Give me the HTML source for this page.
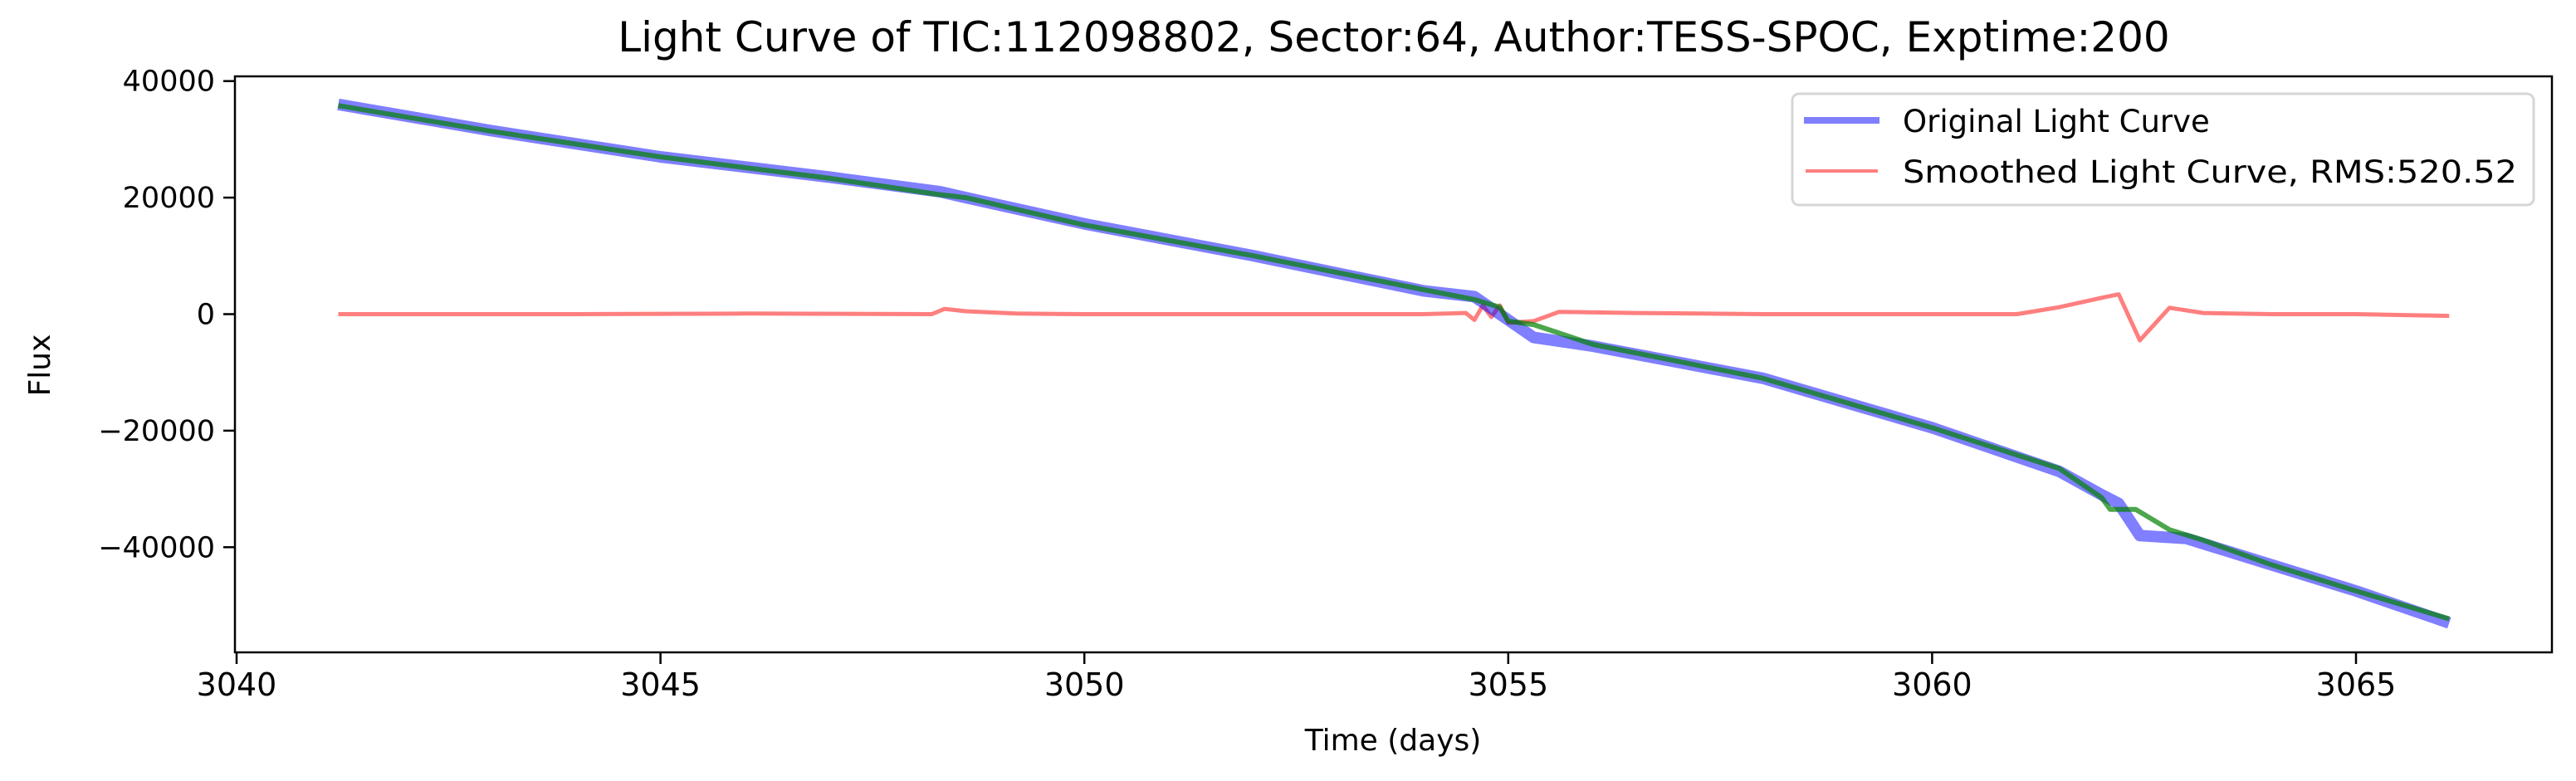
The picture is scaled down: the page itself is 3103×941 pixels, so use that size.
<!DOCTYPE html>
<html><head><meta charset="utf-8"><style>
html,body{margin:0;padding:0;background:#fff;}
svg{display:block;font-family:"DejaVu Sans","Liberation Sans",sans-serif;}
</style></head><body>
<svg id="chart" width="3103" height="941" viewBox="0 0 3103 941">
<rect x="0" y="0" width="3103" height="941" fill="#fff"/>
<text x="1679" y="62" font-size="50" text-anchor="middle">Light Curve of TIC:112098802, Sector:64, Author:TESS-SPOC, Exptime:200</text>
<g id="plot"></g>
<g id="axes"></g>
<text x="1678" y="904" font-size="36" text-anchor="middle">Time (days)</text>
<text x="0" y="0" font-size="36" text-anchor="middle" transform="translate(60,440) rotate(-90)">Flux</text>
<g>
<rect x="2159" y="113" width="893" height="134" rx="8" fill="#fff" fill-opacity="0.8" stroke="#d6d6d6" stroke-width="3"/>
<line x1="2173" y1="145" x2="2264" y2="145" stroke="#7f7fff" stroke-width="8"/>
<text x="2292" y="159" font-size="37">Original Light Curve</text>
<line x1="2175" y1="206" x2="2262" y2="206" stroke="#ff7f7f" stroke-width="4"/>
<text x="2292" y="220" font-size="37" textLength="740" lengthAdjust="spacingAndGlyphs">Smoothed Light Curve, RMS:520.52</text>
</g>
</svg>
<script>
const origTimes=[3041.2,3043,3045,3047,3048.3,3048.6,3050,3052,3054,3054.6,3054.8,3055.0,3055.3,3056,3058,3060,3061.5,3062.0,3062.2,3062.45,3063,3064,3065,3066.1];
const origFlux=[36000,31500,27000,23500,21000,20000,15500,10000,4000,3000,1000,-1000,-4000,-5500,-11000,-19500,-27000,-31000,-32500,-38000,-38500,-43000,-47500,-53000];
const smoothTimes=[3041.2,3043,3045,3047,3048.3,3048.6,3050,3052,3054,3054.6,3054.9,3055.0,3055.3,3056,3058,3060,3061.5,3062.0,3062.1,3062.4,3062.8,3063.2,3064,3065,3066.1];
const smoothFlux=[35800,31400,27000,23300,20500,20000,15300,10000,4200,2500,1200,-1200,-1800,-5200,-11000,-19500,-26500,-31500,-33500,-33500,-37000,-38800,-43000,-47500,-52300];
const residTimes=[3041.2,3044,3046,3048.2,3048.35,3048.6,3049.2,3050,3052,3054.0,3054.5,3054.6,3054.7,3054.8,3054.9,3055.0,3055.3,3055.6,3056.5,3058,3060,3061.0,3061.5,3062.0,3062.2,3062.45,3062.8,3063.2,3064,3065,3066.1];
const residFlux=[0,0,100,0,900,500,100,0,0,0,200,-1000,1500,-500,1500,-1500,-1200,400,200,0,0,0,1200,2800,3400,-4500,1100,200,0,0,-300];
const xTicks=[3040,3045,3050,3055,3060,3065];
const yTicks=[40000,20000,0,-20000,-40000];
const yTickLabels=["40000","20000","0","\u221220000","\u221240000"];

const X0=283,X1=3074,Y0=92,Y1=786;
function xs(t){return 285+(t-3040)*(2838-285)/25;}
function ys(v){return 378.5-v*280.8/40000;}
const NS="http://www.w3.org/2000/svg";
const plot=document.getElementById('plot');
const axes=document.getElementById('axes');
function pts(ts,vs){return ts.map((t,i)=>xs(t).toFixed(1)+','+ys(vs[i]).toFixed(1)).join(' ');}
function line(ts,vs,color,w,op,name){
  const p=document.createElementNS(NS,'polyline');
  p.setAttribute('points',pts(ts,vs));
  p.setAttribute('fill','none');p.setAttribute('stroke',color);
  p.setAttribute('stroke-width',w);p.setAttribute('stroke-opacity',op);
  p.setAttribute('stroke-linejoin','round');
  
  
  plot.appendChild(p);
}
line(residTimes,residFlux,'#ff0000',5,0.5,'smoothed-light-curve-residual');
line(origTimes,origFlux,'#0000ff',14,0.5,'original-light-curve');
line(smoothTimes,smoothFlux,'#008000',6,0.7,'smooth-trend-line');

const frame=document.createElementNS(NS,'rect');
frame.setAttribute('x',X0);frame.setAttribute('y',Y0);
frame.setAttribute('width',X1-X0);frame.setAttribute('height',Y1-Y0);
frame.setAttribute('fill','none');frame.setAttribute('stroke','#000');frame.setAttribute('stroke-width','2.5');


axes.appendChild(frame);

xTicks.forEach(t=>{
  const l=document.createElementNS(NS,'line');
  l.setAttribute('x1',xs(t));l.setAttribute('x2',xs(t));l.setAttribute('y1',Y1);l.setAttribute('y2',Y1+14);
  l.setAttribute('stroke','#000');l.setAttribute('stroke-width','2.5');
  
  
  axes.appendChild(l);
  const tx=document.createElementNS(NS,'text');
  tx.setAttribute('x',xs(t));tx.setAttribute('y',Y1+52);tx.setAttribute('font-size','38');tx.setAttribute('text-anchor','middle');
  tx.textContent=String(t);
  
  
  axes.appendChild(tx);
});
yTicks.forEach((v,i)=>{
  const l=document.createElementNS(NS,'line');
  l.setAttribute('x1',X0-14);l.setAttribute('x2',X0);l.setAttribute('y1',ys(v));l.setAttribute('y2',ys(v));
  l.setAttribute('stroke','#000');l.setAttribute('stroke-width','2.5');
  
  
  axes.appendChild(l);
  const tx=document.createElementNS(NS,'text');
  tx.setAttribute('x',X0-24);tx.setAttribute('y',ys(v)+12);tx.setAttribute('font-size','35');tx.setAttribute('text-anchor','end');
  tx.textContent=yTickLabels[i];
  
  
  axes.appendChild(tx);
});
</script>
</body></html>
